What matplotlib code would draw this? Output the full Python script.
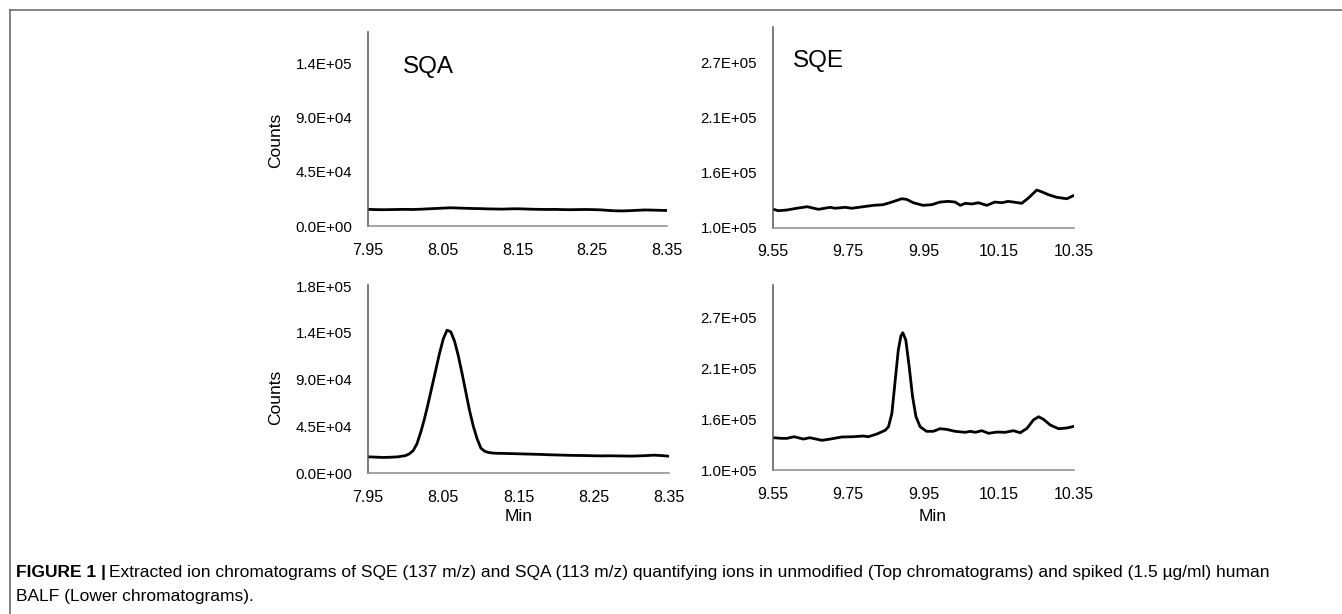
import matplotlib
matplotlib.use("Agg")
import matplotlib.pyplot as plt
from matplotlib.lines import Line2D

plt.rcParams['font.family'] = ['Liberation Sans', 'DejaVu Sans']

# SQA, unmodified BALF (top left)
sqa_blank_x = [7.95, 7.96, 7.97, 7.98, 7.99, 8.00, 8.01, 8.02, 8.03, 8.04, 8.05, 8.06, 8.07,
               8.08, 8.09, 8.10, 8.11, 8.12, 8.13, 8.14, 8.15, 8.16, 8.17, 8.18, 8.19, 8.20,
               8.21, 8.22, 8.23, 8.24, 8.25, 8.26, 8.27, 8.28, 8.29, 8.30, 8.31, 8.32, 8.33,
               8.34, 8.35]
sqa_blank_y = [13800, 13600, 13500, 13600, 13700, 13800, 13700, 13900, 14200, 14500, 14800,
               15100, 14900, 14700, 14500, 14400, 14200, 14100, 14000, 14200, 14300, 14100,
               13900, 13800, 13700, 13800, 13600, 13500, 13600, 13700, 13600, 13400, 13000,
               12600, 12500, 12700, 13000, 13300, 13200, 13000, 12900]

# SQA, spiked BALF (bottom left)
sqa_spiked_x = [7.95, 7.96, 7.97, 7.98, 7.99, 8.00, 8.005, 8.01, 8.015, 8.02, 8.025, 8.03,
                8.035, 8.04, 8.045, 8.05, 8.055, 8.06, 8.065, 8.07, 8.075, 8.08, 8.085, 8.09,
                8.095, 8.10, 8.105, 8.11, 8.115, 8.12, 8.13, 8.14, 8.15, 8.16, 8.17, 8.18,
                8.19, 8.20, 8.21, 8.22, 8.23, 8.24, 8.25, 8.26, 8.27, 8.28, 8.29, 8.30, 8.31,
                8.32, 8.33, 8.34, 8.35]
sqa_spiked_y = [15600, 15300, 15000, 15200, 15600, 16800, 18500, 21500, 28000, 39000, 52000,
                67000, 83000, 99000, 115000, 129000, 137500, 136000, 127000, 113000, 96000,
                78000, 60000, 45000, 33000, 24000, 21000, 19800, 19300, 19000, 18900, 18700,
                18500, 18300, 18100, 17900, 17600, 17400, 17200, 17000, 16900, 16800, 16600,
                16500, 16600, 16500, 16400, 16300, 16500, 16800, 17200, 16800, 16200]

# SQE, unmodified BALF (top right)
sqe_blank_x = [9.551, 9.564, 9.587, 9.613, 9.641, 9.671, 9.702, 9.715, 9.742, 9.759, 9.790,
               9.817, 9.843, 9.866, 9.892, 9.905, 9.923, 9.949, 9.972, 9.994, 10.016, 10.034,
               10.048, 10.061, 10.079, 10.096, 10.118, 10.140, 10.158, 10.175, 10.189, 10.211,
               10.229, 10.251, 10.264, 10.282, 10.304, 10.331, 10.350]
sqe_blank_y = [118900, 117500, 118200, 120000, 121600, 118900, 121000, 120000, 121000, 120000,
               121600, 123000, 123700, 126400, 129800, 129200, 125700, 123000, 123700, 126400,
               127100, 126400, 123000, 125100, 124400, 125700, 123000, 126400, 125700, 127100,
               126400, 125100, 130600, 138800, 137000, 134000, 131300, 129800, 133300]

# SQE, spiked BALF (bottom right)
sqe_spiked_x = [9.551, 9.573, 9.587, 9.606, 9.631, 9.648, 9.680, 9.702, 9.733, 9.763, 9.790,
                9.803, 9.826, 9.848, 9.857, 9.866, 9.874, 9.883, 9.890, 9.895, 9.903, 9.912,
                9.921, 9.930, 9.941, 9.958, 9.976, 9.994, 10.011, 10.034, 10.061, 10.074,
                10.088, 10.105, 10.123, 10.145, 10.167, 10.189, 10.207, 10.225, 10.242,
                10.256, 10.269, 10.287, 10.309, 10.331, 10.350]
sqe_spiked_y = [135900, 135200, 135200, 137000, 134400, 135900, 133000, 134400, 136700, 137000,
                137800, 137000, 140000, 144100, 148100, 163000, 196300, 233300, 249000, 252600,
                244400, 214800, 181400, 159200, 148100, 143000, 143000, 145900, 145200, 143000,
                141900, 143000, 141900, 143700, 140800, 142200, 141900, 143700, 141400, 146300,
                155600, 159200, 156300, 150000, 145900, 146700, 148600]

sqa_xticks = [7.95, 8.05, 8.15, 8.25, 8.35]
sqe_xticks = [9.55, 9.75, 9.95, 10.15, 10.35]
sqa_yticks_top = [0, 45000, 90000, 135000]
sqa_ylabels_top = ['0.0E+00', '4.5E+04', '9.0E+04', '1.4E+05']
sqa_yticks_bot = [0, 45000, 90000, 135000, 180000]
sqa_ylabels_bot = ['0.0E+00', '4.5E+04', '9.0E+04', '1.4E+05', '1.8E+05']
sqe_yticks = [100000, 156667, 213333, 270000]
sqe_ylabels = ['1.0E+05', '1.6E+05', '2.1E+05', '2.7E+05']

fig = plt.figure(figsize=(13.42, 6.14), dpi=100)

ax_tl = fig.add_axes([0.2742, 0.6319, 0.2228, 0.3160])
ax_tr = fig.add_axes([0.5760, 0.6292, 0.2243, 0.3268])
ax_bl = fig.add_axes([0.2742, 0.2296, 0.2243, 0.3062])
ax_br = fig.add_axes([0.5760, 0.2345, 0.2243, 0.3013])

panels = [
    (ax_tl, sqa_blank_x, sqa_blank_y, sqa_xticks, sqa_yticks_top, sqa_ylabels_top, (0, 160700)),
    (ax_tr, sqe_blank_x, sqe_blank_y, sqe_xticks, sqe_yticks, sqe_ylabels, (100000, 306800)),
    (ax_bl, sqa_spiked_x, sqa_spiked_y, sqa_xticks, sqa_yticks_bot, sqa_ylabels_bot, (0, 181000)),
    (ax_br, sqe_spiked_x, sqe_spiked_y, sqe_xticks, sqe_yticks, sqe_ylabels, (100000, 305600)),
]

for ax, x, y, xt, yt, yl, lim in panels:
    ax.plot(x, y, color='black', lw=2.0, solid_joinstyle='round', solid_capstyle='round')
    ax.set_xlim(xt[0], xt[-1])
    ax.set_ylim(*lim)
    ax.set_xticks(xt)
    ax.set_xticklabels([f"{v:.2f}" for v in xt], fontsize=11.5)
    ax.set_yticks(yt)
    ax.set_yticklabels(yl, fontsize=10.8)
    ax.tick_params(length=0)
    ax.tick_params(axis='y', pad=11.5)
    ax.tick_params(axis='x', pad=12)
    ax.spines['top'].set_visible(False)
    ax.spines['right'].set_visible(False)
    ax.spines['left'].set_color('#555555')
    ax.spines['bottom'].set_color('#8a8a8a')
    ax.spines['left'].set_linewidth(1.1)
    ax.spines['bottom'].set_linewidth(1.1)
    ax.set_facecolor('none')

ax_tl.text(0.118, 0.82, 'SQA', transform=ax_tl.transAxes, fontsize=17.5, va='center')
ax_tr.text(0.066, 0.83, 'SQE', transform=ax_tr.transAxes, fontsize=17.5, va='center')

for ax, ly in [(ax_tl, 0.443), (ax_bl, 0.40)]:
    ax.set_ylabel('Counts', fontsize=12.5, va='center')
    ax.yaxis.set_label_coords(-0.308, ly)

ax_bl.set_xlabel('Min', fontsize=12.5, va='center')
ax_bl.xaxis.set_label_coords(0.50, -0.23)
ax_br.set_xlabel('Min', fontsize=12.5, va='center')
ax_br.xaxis.set_label_coords(0.53, -0.25)

# frame around the figure (left and top edges visible)
fig.add_artist(Line2D([9.5 / 1342, 9.5 / 1342], [0, 1 - 10 / 614], transform=fig.transFigure,
                      color='#6e6e6e', lw=1.2))
fig.add_artist(Line2D([9.5 / 1342, 1], [1 - 10 / 614, 1 - 10 / 614], transform=fig.transFigure,
                      color='#6e6e6e', lw=1.2))

cap_font = ['Liberation Sans Narrow', 'Liberation Sans', 'DejaVu Sans']
cap_size = 12.5
t1 = fig.text(16 / 1342, 1 - 572 / 614, 'FIGURE 1 |', fontsize=cap_size, fontweight='bold',
              family=cap_font, va='center')
ax_tl.annotate('Extracted ion chromatograms of SQE (137 m/z) and SQA (113 m/z) quantifying ions '
               'in unmodified (Top chromatograms) and spiked (1.5 \u00b5g/ml) human',
               xy=(1, 0.5), xycoords=t1, xytext=(2, 0), textcoords='offset points',
               fontsize=cap_size, family=cap_font, va='center', annotation_clip=False)
fig.text(16 / 1342, 1 - 596 / 614, 'BALF (Lower chromatograms).', fontsize=cap_size,
         family=cap_font, va='center')

fig.savefig('out.png', dpi=100)
plt.close('all')
